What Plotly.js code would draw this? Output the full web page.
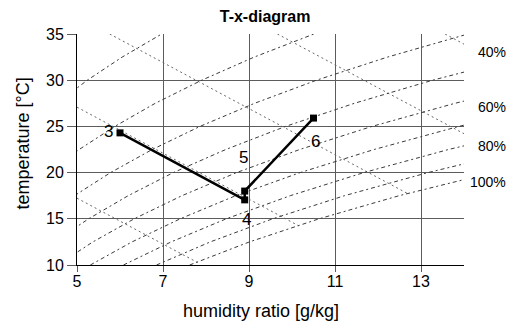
<!DOCTYPE html>
<html>
<head>
<meta charset="utf-8">
<script src="https://cdn.plot.ly/plotly-3.0.1.min.js"></script>
<style>
  html, body { margin: 0; padding: 0; background: #fff; }
  #chart { width: 516px; height: 327px; }
</style>
</head>
<body>
<div id="chart"></div>
<script>
// Temperature steps (°C) along which the relative-humidity curves are given
const tGrid = [10, 12.5, 15, 17.5, 20, 22.5, 25, 27.5, 30, 32.5, 35];

// Humidity ratio (g/kg) of each relative-humidity curve at the tGrid temperatures
const rh20 = [1.51, 1.78, 2.10, 2.46, 2.88, 3.36, 3.90, 4.53, 5.24, 6.05, 6.97];
const rh30 = [2.27, 2.68, 3.15, 3.70, 4.33, 5.05, 5.88, 6.82, 7.90, 9.12, 10.51];
const rh40 = [3.03, 3.57, 4.21, 4.94, 5.78, 6.75, 7.86, 9.13, 10.57, 12.22, 14.09];
const rh50 = [3.79, 4.47, 5.27, 6.19, 7.24, 8.46, 9.85, 11.45, 13.27, 15.35];
const rh60 = [4.55, 5.37, 6.33, 7.44, 8.71, 10.18, 11.86, 13.79, 15.99];
const rh70 = [5.31, 6.28, 7.40, 8.69, 10.19, 11.91, 13.88, 16.15];
const rh80 = [6.08, 7.19, 8.47, 9.96, 11.67, 13.64, 15.92];
const rh90 = [6.85, 8.10, 9.55, 11.22, 13.16, 15.39];
const rh100 = [7.62, 9.01, 10.63, 12.49, 14.66];

// Curve labels at the right edge and the temperature they sit at
const rhLabels = ['40%', '60%', '80%', '100%'];
const rhLabelTemps = [33.0, 27.1, 22.9, 19.0];

// Constant-enthalpy lines (h = 30 ... 70 kJ/kg): humidity ratio and temperature of their ends
const h30x = [5.00, 7.80],  h30t = [17.23, 10.28];
const h40x = [5.00, 10.15], h40t = [27.08, 14.26];
const h50x = [5.76, 12.69], h50t = [35.00, 17.73];
const h60x = [9.66, 14.00], h60t = [35.00, 24.21];
const h70x = [13.56, 14.00], h70t = [35.00, 33.90];

// Air states of the process, in the order they are passed through
const stateNames = ['3', '4', '5', '6'];
const stateX = [6.0, 8.9, 8.9, 10.5];
const stateT = [24.3, 17.05, 18.0, 25.9];

// Axis ticks
const xTicks = [5, 7, 9, 11, 13];
const yTicks = [10, 15, 20, 25, 30, 35];

const FONT = 'Liberation Sans, Arial, Helvetica, sans-serif';

const rhCurves = [rh20, rh30, rh40, rh50, rh60, rh70, rh80, rh90, rh100];
const enthalpyLines = [[h30x, h30t], [h40x, h40t], [h50x, h50t], [h60x, h60t], [h70x, h70t]];

const traces = [];

enthalpyLines.forEach(([xs, ts]) => {
  traces.push({
    type: 'scatter', mode: 'lines', x: xs, y: ts,
    line: { color: '#666', width: 1, dash: '2px,3px' },
    hoverinfo: 'skip', showlegend: false
  });
});

rhCurves.forEach(xs => {
  traces.push({
    type: 'scatter', mode: 'lines', x: xs, y: tGrid.slice(0, xs.length),
    line: { color: '#3a3a3a', width: 1, dash: '4px,3px,2px,3px' },
    hoverinfo: 'skip', showlegend: false
  });
});

traces.push({
  type: 'scatter', mode: 'lines+markers', x: stateX, y: stateT,
  line: { color: '#000', width: 2.5 },
  marker: { symbol: 'square', size: 7, color: '#000' },
  hoverinfo: 'skip', showlegend: false
});

// Offsets of the state labels relative to their markers (px)
const stateLabelShift = {
  '3': { xanchor: 'right', xshift: -5, yshift: 1 },
  '4': { xanchor: 'center', xshift: 2, yshift: -20 },
  '5': { xanchor: 'center', xshift: -1, yshift: 34 },
  '6': { xanchor: 'center', xshift: 2, yshift: -23 }
};

const annotations = [];
stateNames.forEach((name, i) => {
  const s = stateLabelShift[name];
  annotations.push({
    x: stateX[i], y: stateT[i], xref: 'x', yref: 'y', text: name, showarrow: false,
    xanchor: s.xanchor, yanchor: 'middle', xshift: s.xshift, yshift: s.yshift,
    font: { family: FONT, size: 17, color: '#000' }
  });
});
rhLabels.forEach((lab, i) => {
  annotations.push({
    x: 1, y: rhLabelTemps[i], xref: 'paper', yref: 'y', text: lab, showarrow: false,
    xanchor: 'right', yanchor: 'middle', xshift: 44,
    font: { family: FONT, size: 14, color: '#000' }
  });
});

// Axis titles, placed as free text so they sit exactly where wanted
annotations.push({
  x: 0.475, y: -0.198, xref: 'paper', yref: 'paper', text: 'humidity ratio [g/kg]',
  showarrow: false, xanchor: 'center', yanchor: 'middle',
  font: { family: FONT, size: 18, color: '#000' }
});
annotations.push({
  x: -0.14, y: 0.525, xref: 'paper', yref: 'paper', text: 'temperature [°C]', textangle: -90,
  showarrow: false, xanchor: 'center', yanchor: 'middle',
  font: { family: FONT, size: 18, color: '#000' }
});

const gridColor = '#5c5c5c';

const layout = {
  width: 516, height: 327,
  margin: { l: 77, r: 52, t: 34, b: 62 },
  paper_bgcolor: '#fff', plot_bgcolor: '#fff',
  showlegend: false,
  title: {
    text: '<b>T-x-diagram</b>',
    font: { family: FONT, size: 16, color: '#000' },
    xref: 'paper', x: 0.486, xanchor: 'center',
    yref: 'container', y: 0.951, yanchor: 'middle'
  },
  xaxis: {
    range: [5, 14], tickvals: xTicks, ticktext: xTicks.map(String),
    showgrid: true, gridcolor: gridColor, gridwidth: 1, zeroline: false,
    showline: true, linecolor: '#000', linewidth: 1, mirror: false,
    ticks: 'outside', ticklen: 6, tickcolor: gridColor, ticklabelstandoff: -4,
    tickfont: { family: FONT, size: 16, color: '#000' }
  },
  yaxis: {
    range: [10, 35], tickvals: yTicks, ticktext: yTicks.map(String),
    showgrid: true, gridcolor: gridColor, gridwidth: 1, zeroline: false,
    showline: true, linecolor: '#000', linewidth: 1, mirror: false,
    ticks: 'outside', ticklen: 9, tickcolor: gridColor,
    tickfont: { family: FONT, size: 16, color: '#000' }
  },
  annotations: annotations
};

Plotly.newPlot('chart', traces, layout, { staticPlot: true, displayModeBar: false });
</script>
</body>
</html>
